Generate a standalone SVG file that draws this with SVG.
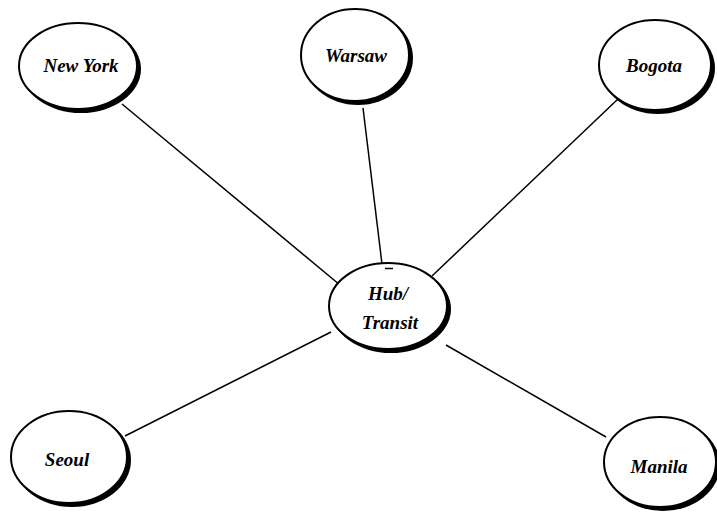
<svg xmlns="http://www.w3.org/2000/svg" width="717" height="516" viewBox="0 0 717 516">
  <style>
    .edge { stroke: #000; stroke-width: 1.5; fill: none; }
    .shadow { fill: #000; }
    .body { fill: #fff; stroke: #000; stroke-width: 2; }
    .label { font-family: "Liberation Serif", "Times New Roman", serif; font-size: 19px; font-weight: bold; font-style: italic; fill: #000; text-anchor: middle; }
  </style>
  <rect width="717" height="516" fill="#fff"/>
  <g id="connectors">
    <line class="edge" x1="122" y1="104" x2="340" y2="285"/>
    <line class="edge" x1="363" y1="108" x2="382" y2="264"/>
    <line class="edge" x1="618" y1="99" x2="432" y2="276"/>
    <line class="edge" x1="125" y1="436" x2="331" y2="332"/>
    <line class="edge" x1="446" y1="345" x2="606" y2="437"/>
  </g>
  <g id="new-york">
    <ellipse class="shadow" cx="81" cy="69" rx="60" ry="44"/>
    <ellipse class="body" cx="78" cy="66" rx="59" ry="43"/>
    <text class="label" x="81" y="72">New York</text>
  </g>
  <g id="warsaw">
    <ellipse class="shadow" cx="358" cy="58" rx="55" ry="47"/>
    <ellipse class="body" cx="355" cy="55" rx="54" ry="46"/>
    <text class="label" x="356" y="62">Warsaw</text>
  </g>
  <g id="bogota">
    <ellipse class="shadow" cx="658" cy="68" rx="57" ry="46"/>
    <ellipse class="body" cx="655" cy="65" rx="56" ry="45"/>
    <text class="label" x="654" y="72">Bogota</text>
  </g>
  <g id="hub">
    <ellipse class="shadow" cx="391" cy="309" rx="60" ry="44"/>
    <ellipse class="body" cx="388" cy="306" rx="59" ry="43"/>
    <line class="edge" x1="385" y1="268.5" x2="393" y2="268.5"/>
    <text class="label" x="388" y="300">Hub/</text>
    <text class="label" x="390" y="329">Transit</text>
  </g>
  <g id="seoul">
    <ellipse class="shadow" cx="72" cy="460" rx="59" ry="47"/>
    <ellipse class="body" cx="69" cy="457" rx="58" ry="46"/>
    <text class="label" x="67" y="466">Seoul</text>
  </g>
  <g id="manila">
    <ellipse class="shadow" cx="663" cy="465" rx="57" ry="46"/>
    <ellipse class="body" cx="660" cy="462" rx="56" ry="45"/>
    <text class="label" x="659" y="473">Manila</text>
  </g>
</svg>
